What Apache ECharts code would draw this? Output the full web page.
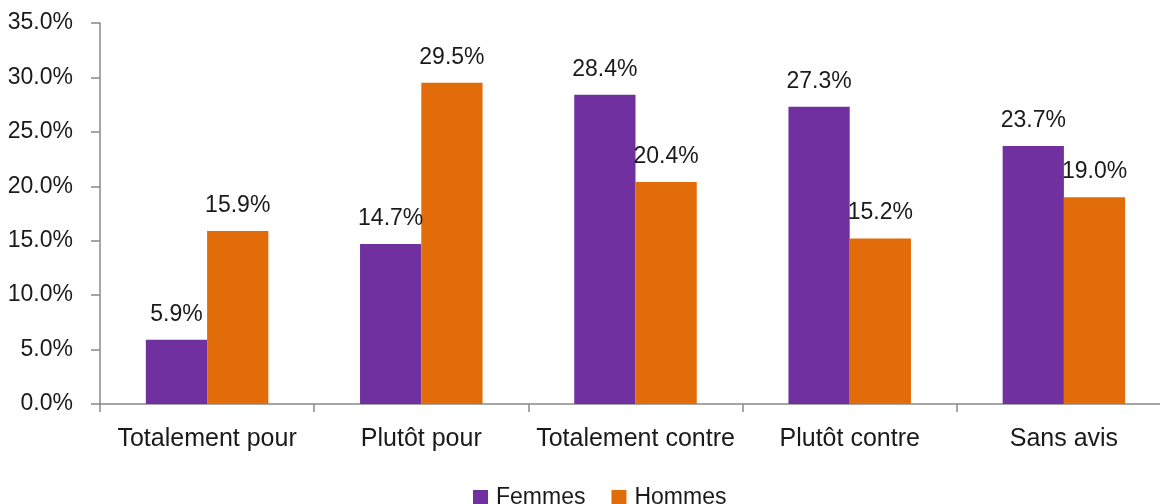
<!DOCTYPE html>
<html lang="fr">
<head>
  <meta charset="UTF-8">
  <title>Femmes / Hommes</title>
  <script src="https://cdn.jsdelivr.net/npm/echarts@6/dist/echarts.min.js"></script>
  <style>
    html, body { margin: 0; padding: 0; background: #fff; }
    #main { width: 1160px; height: 504px; }
  </style>
</head>
<body>
  <div id="main"></div>
  <script>
    // données
    var categories = ['Totalement pour', 'Plutôt pour', 'Totalement contre', 'Plutôt contre', 'Sans avis'];
    var femmes = [5.9, 14.7, 28.4, 27.3, 23.7];
    var hommes = [15.9, 29.5, 20.4, 15.2, 19.0];

    var font = 'Liberation Sans, Arial, sans-serif';
    var myChart = echarts.init(document.getElementById('main'));

    var labelTop = {
      show: true,
      position: 'top',
      distance: 14,
      color: '#1a1a1a',
      fontSize: 23,
      fontFamily: font,
      formatter: function (p) { return p.value.toFixed(1) + '%'; }
    };

    var option = {
      animation: false,
      textStyle: { fontFamily: font },
      // l'axe déborde un peu à droite, comme dans l'original
      grid: { left: 100, width: 1071, top: 23, bottom: 100, containLabel: false, outerBoundsMode: 'none' },
      legend: {
        data: ['Femmes', 'Hommes'],
        top: 481,
        left: 468,
        itemWidth: 15,
        itemHeight: 15,
        itemGap: 26,
        icon: 'rect',
        textStyle: { fontSize: 23, color: '#1a1a1a', fontFamily: font, padding: [0, 0, 0, 3] }
      },
      xAxis: {
        type: 'category',
        data: categories,
        axisLine: { lineStyle: { color: '#898989', width: 1.5 } },
        axisTick: { show: true, length: 8, lineStyle: { color: '#898989', width: 1.5 } },
        axisLabel: { color: '#1a1a1a', fontSize: 25, margin: 23, interval: 0, fontFamily: font }
      },
      yAxis: {
        type: 'value',
        min: 0,
        max: 35,
        interval: 5,
        axisLine: { show: true, lineStyle: { color: '#898989', width: 1.5 } },
        axisTick: { show: true, length: 9, lineStyle: { color: '#898989', width: 1.5 } },
        splitLine: { show: false },
        axisLabel: {
          color: '#1a1a1a',
          fontSize: 23,
          margin: 27,
          fontFamily: font,
          formatter: function (v) { return v.toFixed(1) + '%'; }
        }
      },
      series: [
        {
          name: 'Femmes',
          type: 'bar',
          data: femmes,
          barWidth: '28.6%',
          barGap: '0%',
          itemStyle: { color: '#7030A0' },
          label: labelTop
        },
        {
          name: 'Hommes',
          type: 'bar',
          data: hommes,
          barWidth: '28.6%',
          barGap: '0%',
          itemStyle: { color: '#E36C0A' },
          label: labelTop
        }
      ]
    };

    myChart.setOption(option);
  </script>
</body>
</html>
